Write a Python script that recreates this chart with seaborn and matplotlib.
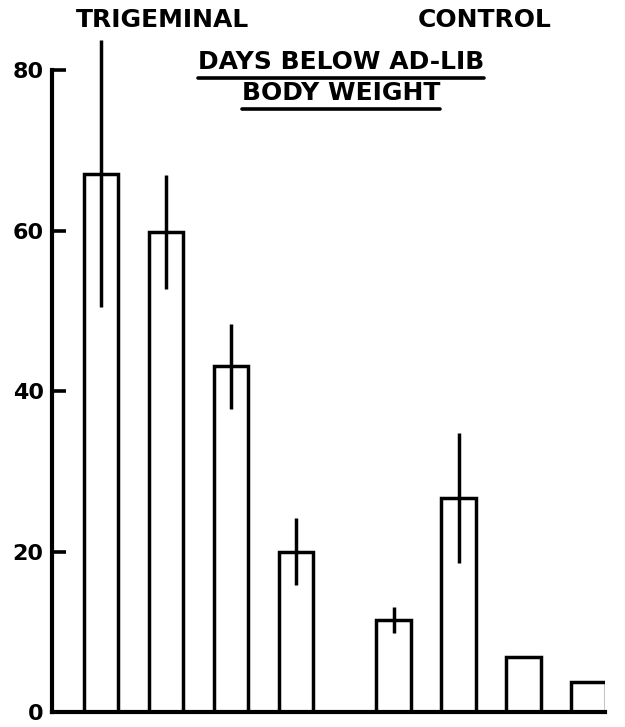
import matplotlib
matplotlib.use("Agg")
import matplotlib.pyplot as plt
from matplotlib.lines import Line2D
import seaborn as sns
import pandas as pd

# Mean days below ad-lib body weight, with standard errors
groups = ["TRIGEMINAL"] * 4 + ["CONTROL"] * 4
bar_positions = [0, 1, 2, 3, 4.5, 5.5, 6.5, 7.5]
days_mean = [67.1, 59.8, 43.1, 20.0, 11.5, 26.7, 6.9, 3.7]
days_sem = [16.6, 7.1, 5.3, 4.2, 1.6, 8.1, 0.0, 0.0]
y_ticks = [0, 20, 40, 60, 80]

sns.set_theme(style="white")
plt.rcParams["font.family"] = ["DejaVu Sans"]

W, H = 625, 727
fig = plt.figure(figsize=(W / 100, H / 100), dpi=100)
ax = fig.add_axes([52 / W, 1 - 712 / H, (605 - 52) / W, (712 - 70) / H])

df = pd.DataFrame({"pos": bar_positions, "days": days_mean, "group": groups})
sns.barplot(data=df, x="pos", y="days", native_scale=True, width=0.53,
            color="white", edgecolor="black", linewidth=2.5,
            errorbar=None, ax=ax)

# standard-error lines, no caps
for p, m, s in zip(bar_positions, days_mean, days_sem):
    if s > 0:
        ax.vlines(p, m - s, m + s, color="black", linewidth=2.5,
                  clip_on=False, zorder=5)

ax.set_xlim(-0.75, 7.75)
ax.set_ylim(0, 80)
ax.set_xticks([])
ax.set_yticks(y_ticks)
ax.set_yticklabels([str(t) for t in y_ticks], fontsize=16, fontweight="bold")
ax.tick_params(axis="y", direction="in", length=10, width=2.6, pad=6,
               colors="black", left=True)
ax.set_xlabel("")
ax.set_ylabel("")
for side in ["top", "right"]:
    ax.spines[side].set_visible(False)
for side in ["left", "bottom"]:
    ax.spines[side].set_color("black")
    ax.spines[side].set_linewidth(3)
ax.set_facecolor("white")
fig.patch.set_facecolor("white")

def px(x, y):
    return x / W, 1 - y / H

fig.text(*px(162, 20), "TRIGEMINAL", ha="center", va="center",
         fontsize=18, fontweight="bold", color="black")
fig.text(*px(485, 20), "CONTROL", ha="center", va="center",
         fontsize=18, fontweight="bold", color="black")

title_lines = {"DAYS BELOW AD-LIB": (62, 78), "BODY WEIGHT": (93, 109)}
for label, (yc, yu) in title_lines.items():
    fig.text(*px(341, yc), label, ha="center", va="center",
             fontsize=18, fontweight="bold", color="black")

# underline each line of the heading
fig.canvas.draw()
renderer = fig.canvas.get_renderer()
for t in fig.texts:
    label = t.get_text()
    if label in title_lines:
        bb = t.get_window_extent(renderer)
        yu = title_lines[label][1]
        fig.add_artist(Line2D([bb.x0 / W, bb.x1 / W], [1 - yu / H, 1 - yu / H],
                              transform=fig.transFigure, color="black",
                              linewidth=2.6))

fig.savefig("out.png", dpi=100, facecolor="white")
